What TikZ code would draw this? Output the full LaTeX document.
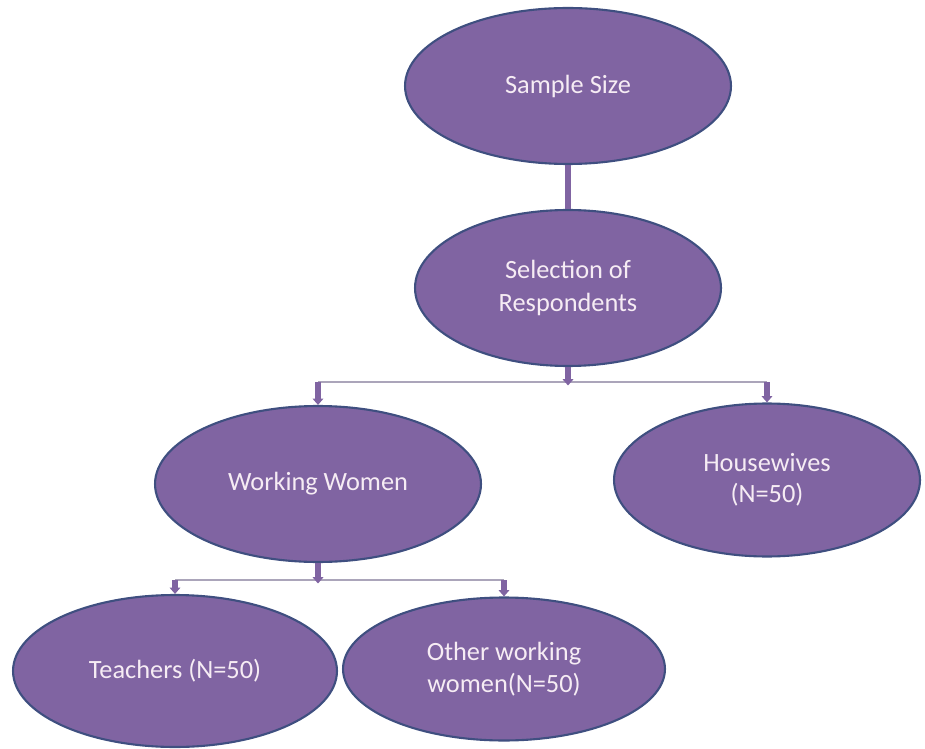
\documentclass[tikz,border=0pt]{standalone}
\usepackage{fontspec}
\setmainfont{Carlito}
\usetikzlibrary{arrows.meta,shapes.geometric}
\definecolor{Plum}{HTML}{8064A2}
\definecolor{PlumEdge}{HTML}{3F4F80}
\definecolor{PlumText}{HTML}{F6ECF4}
\definecolor{Rail}{HTML}{ABA5BA}
\tikzset{
  oval/.style={ellipse,draw=PlumEdge,fill=Plum,line width=1.2pt,inner sep=0pt,
    minimum width=6.48cm,minimum height=3.12cm,align=center,text=PlumText,
    font=\fontsize{15}{18.5}\selectfont},
  stub/.style={-{Triangle[width=6pt,length=3.6pt]},draw=Plum,line width=3.2pt},
  plain/.style={draw=Plum,line width=3.2pt},
  rail/.style={draw=Rail,line width=0.7pt}
}

\begin{document}
\begin{tikzpicture}[x=0.02cm,y=-0.02cm]
  \useasboundingbox (0,0) rectangle (925,749);
  % ovals
  \node[oval,minimum width=6.52cm] (sample) at (568,86) {Sample Size};
  \node[oval,minimum width=6.12cm] (select) at (568,288) {Selection of\\Respondents};
  \node[oval,minimum width=6.52cm] (work) at (318,484) {Working Women};
  \node[oval,minimum width=6.12cm,minimum height=3.06cm] (house) at (767,480) {Housewives\\[-1pt](N=50)};
  \node[oval,minimum height=3.04cm] (teach) at (175,671) {Teachers (N=50)};
  \node[oval,minimum width=6.44cm,minimum height=2.86cm] (other) at (504,669) {Other working\\women(N=50)};
  % branch points
  \coordinate (bus1) at (568,382);
  \coordinate (bus2) at (318,580);
  % connectors
  \draw[plain] (sample.south) -- (select.north);
  \draw[rail] (bus1 -| work.north) -- (bus1 -| house.north);
  \draw[stub] (select.south) -- ([yshift=-2pt]bus1);
  \draw[stub] (bus1 -| work.north) -- (work.north);
  \draw[stub] (bus1 -| house.north) -- (house.north);
  \draw[rail] (bus2 -| teach.north) -- (bus2 -| other.north);
  \draw[stub] (work.south) -- ([yshift=-2pt]bus2);
  \draw[stub] (bus2 -| teach.north) -- (teach.north);
  \draw[stub] (bus2 -| other.north) -- (other.north);
\end{tikzpicture}
\end{document}
